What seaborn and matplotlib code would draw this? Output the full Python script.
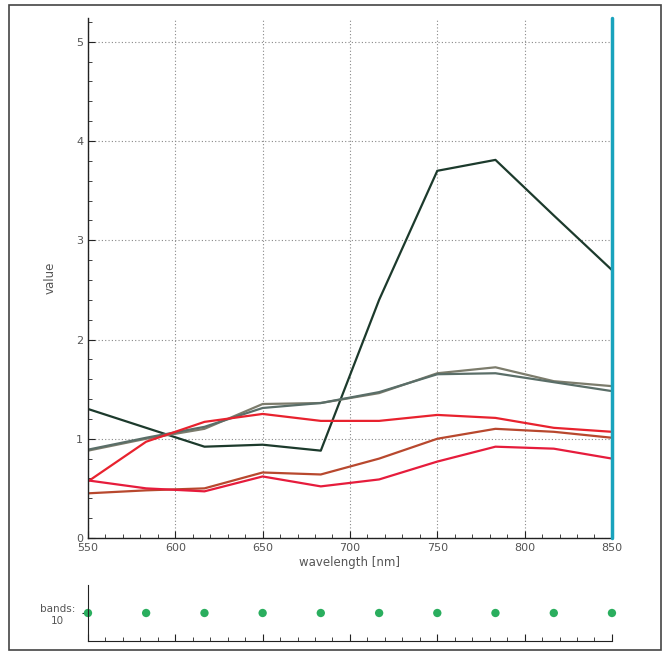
import pandas as pd
import numpy as np
import matplotlib
matplotlib.use('Agg')
import matplotlib.pyplot as plt
import seaborn as sns
from matplotlib.ticker import MultipleLocator

# band centres (10 bands, 550-850 nm)
wavelength = [550, 583.3, 616.7, 650, 683.3, 716.7, 750, 783.3, 816.7, 850]

dark = [1.30, 1.11, 0.92, 0.94, 0.88, 2.40, 3.70, 3.81, 3.25, 2.70]
gray_a = [0.88, 1.00, 1.10, 1.35, 1.36, 1.46, 1.66, 1.72, 1.58, 1.53]
gray_b = [0.89, 1.01, 1.12, 1.31, 1.36, 1.47, 1.65, 1.66, 1.57, 1.48]
red_top = [0.57, 0.97, 1.17, 1.25, 1.18, 1.18, 1.24, 1.21, 1.11, 1.07]
brown = [0.45, 0.48, 0.50, 0.66, 0.64, 0.80, 1.00, 1.10, 1.07, 1.01]
red_low = [0.58, 0.50, 0.47, 0.62, 0.52, 0.59, 0.77, 0.92, 0.90, 0.80]

series = {'dark': dark, 'gray_a': gray_a, 'gray_b': gray_b,
          'red_top': red_top, 'brown': brown, 'red_low': red_low}
colors = {'dark': '#1c3a2c', 'gray_a': '#7c7c6c', 'gray_b': '#5a6e68',
          'red_top': '#e8222e', 'brown': '#b8482e', 'red_low': '#e61c3c'}

rows = []
for name, vals in series.items():
    for w, v in zip(wavelength, vals):
        rows.append({'wavelength': w, 'value': v, 'series': name})
df = pd.DataFrame(rows)

bands = pd.DataFrame({'wavelength': wavelength, 'y': [0] * len(wavelength)})

sns.set_style('white')
plt.rcParams['font.family'] = ['DejaVu Sans']

fig = plt.figure(figsize=(6.68, 6.56), dpi=100)
# outer frame
fig.patches.append(plt.Rectangle((0.014, 0.009), 0.976, 0.984, transform=fig.transFigure,
                                 fill=False, edgecolor='#444444', lw=1.2))

ax = fig.add_axes([0.1317, 0.1799, 0.7844, 0.7927])
ax.set_xlim(550, 850)
ax.set_ylim(0, 5.24)
ax.xaxis.set_major_locator(MultipleLocator(50))
ax.xaxis.set_minor_locator(MultipleLocator(10))
ax.yaxis.set_major_locator(MultipleLocator(1))
ax.yaxis.set_minor_locator(MultipleLocator(0.2))
ax.grid(True, which='major', ls=(0, (1, 2)), color='#888888', lw=0.8)
sns.lineplot(data=df, x='wavelength', y='value', hue='series', palette=colors,
             legend=False, lw=1.6, ax=ax)
ax.axvline(850, color='#1aa3bd', lw=2.5, clip_on=False, zorder=5)
for s in ['top', 'right']:
    ax.spines[s].set_visible(False)
for s in ['left', 'bottom']:
    ax.spines[s].set_color('#222222')
    ax.spines[s].set_linewidth(1.0)
ax.tick_params(which='major', direction='in', length=5, color='#222222',
               labelsize=8, labelcolor='#555555', left=True, bottom=True)
ax.tick_params(which='minor', direction='in', length=3, color='#222222',
               left=True, bottom=True)
ax.set_xlabel('wavelength [nm]', fontsize=8.5, color='#555555', labelpad=2)
ax.set_ylabel('value', fontsize=8.5, color='#555555', labelpad=14)

bx = fig.add_axes([0.1317, 0.0229, 0.7844, 0.0853])
sns.scatterplot(data=bands, x='wavelength', y='y', color='#2aae5e', s=36,
                edgecolor='none', clip_on=False, ax=bx)
bx.set_xlim(550, 850)
bx.set_ylim(-1, 1)
bx.xaxis.set_major_locator(MultipleLocator(50))
bx.xaxis.set_minor_locator(MultipleLocator(10))
bx.set_yticks([0])
bx.set_yticklabels(['bands:\n10'], ha='center')
bx.set_xticklabels([])
bx.set_xlabel('')
bx.set_ylabel('')
for s in ['top', 'right']:
    bx.spines[s].set_visible(False)
for s in ['left', 'bottom']:
    bx.spines[s].set_color('#222222')
bx.tick_params(which='major', direction='in', length=5, color='#222222',
               labelsize=7.5, labelcolor='#555555', left=True, bottom=True)
bx.tick_params(axis='y', direction='out', length=4, pad=18)
bx.tick_params(which='minor', direction='in', length=3, color='#222222', bottom=True)

plt.savefig('out.png', dpi=100)
